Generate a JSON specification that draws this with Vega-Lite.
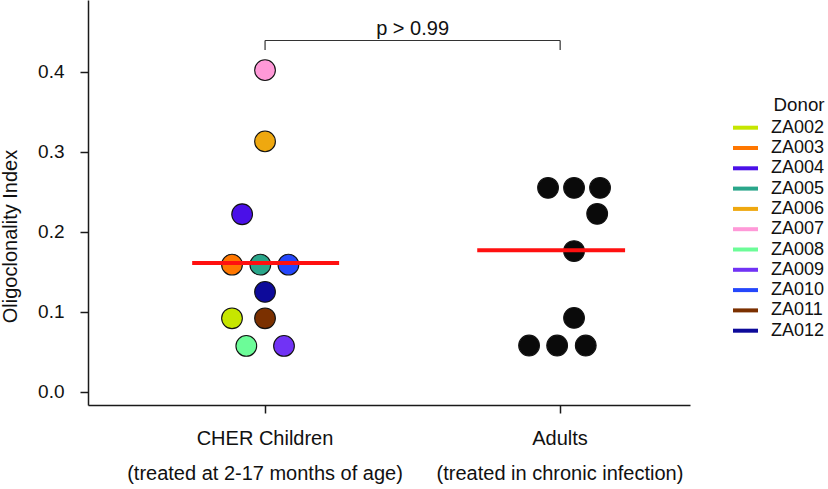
{
  "$schema": "https://vega.github.io/schema/vega-lite/v6.json",
  "width": 602,
  "height": 405,
  "autosize": {"type": "none"},
  "padding": {"left": 88, "top": 0, "right": 138, "bottom": 84},
  "config": {
    "font": "Liberation Sans",
    "view": {"stroke": null},
    "axis": {"grid": false, "domainColor": "#1a1a1a", "tickColor": "#1a1a1a", "domainWidth": 1.5, "tickWidth": 1.5, "tickSize": 8, "labelColor": "#111", "titleColor": "#111"}
  },
  "datasets": {
    "donors": [
      {"donor": "ZA007", "group": "CHER Children", "index": 0.402, "slot": 0},
      {"donor": "ZA006", "group": "CHER Children", "index": 0.313, "slot": 0},
      {"donor": "ZA004", "group": "CHER Children", "index": 0.222, "slot": -0.88},
      {"donor": "ZA003", "group": "CHER Children", "index": 0.159, "slot": -1.27},
      {"donor": "ZA005", "group": "CHER Children", "index": 0.159, "slot": -0.18},
      {"donor": "ZA010", "group": "CHER Children", "index": 0.159, "slot": 0.9},
      {"donor": "ZA012", "group": "CHER Children", "index": 0.125, "slot": 0},
      {"donor": "ZA002", "group": "CHER Children", "index": 0.092, "slot": -1.27},
      {"donor": "ZA011", "group": "CHER Children", "index": 0.092, "slot": 0},
      {"donor": "ZA008", "group": "CHER Children", "index": 0.0575, "slot": -0.72},
      {"donor": "ZA009", "group": "CHER Children", "index": 0.0575, "slot": 0.73},
      {"donor": "Adult", "group": "Adults", "index": 0.255, "slot": -0.46},
      {"donor": "Adult", "group": "Adults", "index": 0.255, "slot": 0.54},
      {"donor": "Adult", "group": "Adults", "index": 0.255, "slot": 1.54},
      {"donor": "Adult", "group": "Adults", "index": 0.2225, "slot": 1.43},
      {"donor": "Adult", "group": "Adults", "index": 0.176, "slot": 0.54},
      {"donor": "Adult", "group": "Adults", "index": 0.0925, "slot": 0.54},
      {"donor": "Adult", "group": "Adults", "index": 0.058, "slot": -1.19},
      {"donor": "Adult", "group": "Adults", "index": 0.058, "slot": -0.11},
      {"donor": "Adult", "group": "Adults", "index": 0.058, "slot": 0.99}
    ],
    "medians": [
      {"group": "CHER Children", "start": 0.753, "end": 1.251, "median": 0.161},
      {"group": "Adults", "start": 1.719, "end": 2.22, "median": 0.177}
    ],
    "bracket": [
      {"start": 1, "end": 2, "top": 0.439, "bottom": 0.427, "mid": 1.5, "label": "p > 0.99", "labelY": 0.446}
    ]
  },
  "resolve": {"scale": {"x": "independent"}, "axis": {"x": "independent"}},
  "layer": [
    {
      "data": {"name": "donors"},
      "transform": [{"filter": "datum.donor != 'Adult'"}],
      "mark": {"type": "line", "strokeWidth": 4},
      "encoding": {
        "x": {"field": "group", "type": "nominal", "scale": {"domain": ["CHER Children", "Adults"], "paddingInner": 0.1186, "paddingOuter": 0.0797, "align": 1}, "axis": null},
        "y": {"field": "index", "type": "quantitative"},
        "stroke": {"field": "donor", "type": "nominal", "title": "Donor",
          "scale": {"domain": ["ZA002", "ZA003", "ZA004", "ZA005", "ZA006", "ZA007", "ZA008", "ZA009", "ZA010", "ZA011", "ZA012"],
            "range": ["#c6e600", "#ff7700", "#4a10e8", "#2aa68a", "#efa80f", "#ff99d8", "#6cfc98", "#7133f5", "#2547fb", "#7b3000", "#0d0a9a"]},
          "legend": {"orient": "none", "legendX": 647.5, "legendY": 96, "padding": 0, "symbolType": "M-1.5625,0H1.5625", "symbolSize": 256, "symbolStrokeWidth": 4,
            "labelFontSize": 18, "labelOffset": 15.5, "labelColor": "#111", "labelLimit": 200, "titleFontSize": 18.7, "titleFontWeight": "normal", "titleColor": "#111",
            "titleAnchor": "end", "titlePadding": 3, "rowPadding": 1.3}}
      }
    },
    {
      "data": {"name": "donors"},
      "mark": {"type": "point", "shape": "circle", "filled": true, "size": 430, "stroke": "#111", "strokeWidth": 1.1, "opacity": 1},
      "encoding": {
        "x": {"field": "group", "type": "nominal",
          "scale": {"domain": ["CHER Children", "Adults"], "paddingInner": 0.1186, "paddingOuter": 0.0797, "align": 1},
          "axis": {"title": null, "labelAngle": 0, "labelFontSize": 20, "labelPadding": 15.5, "labelLineHeight": 35, "labelBaseline": "top", "labelLimit": 500,
            "labelExpr": "datum.value == 'CHER Children' ? ['CHER Children', '(treated at 2-17 months of age)'] : ['Adults', '(treated in chronic infection)']"}},
        "xOffset": {"field": "slot", "type": "quantitative", "scale": {"domain": [-1, 1], "range": [104, 156]}},
        "y": {"field": "index", "type": "quantitative",
          "scale": {"domain": [-0.0163, 0.4896], "nice": false, "zero": false},
          "axis": {"values": [0, 0.1, 0.2, 0.3, 0.4], "format": ".1f", "title": "Oligoclonality Index", "labelFontSize": 19, "labelPadding": 16,
            "titleFontSize": 20, "titleFontWeight": "normal", "titleAngle": -90, "titleBaseline": "alphabetic", "titleX": -72, "titleY": 236, "titleAlign": "center"}},
        "fill": {"field": "donor", "type": "nominal", "legend": null,
          "scale": {"domain": ["ZA002", "ZA003", "ZA004", "ZA005", "ZA006", "ZA007", "ZA008", "ZA009", "ZA010", "ZA011", "ZA012", "Adult"],
            "range": ["#c6e600", "#ff7700", "#4a10e8", "#2aa68a", "#efa80f", "#ff99d8", "#6cfc98", "#7133f5", "#2547fb", "#7b3000", "#0d0a9a", "#0a0a0a"]}}
      }
    },
    {
      "data": {"name": "medians"},
      "mark": {"type": "rule", "color": "#ff1010", "strokeWidth": 4},
      "encoding": {
        "x": {"field": "start", "type": "quantitative", "scale": {"domain": [0.4, 2.44], "nice": false, "zero": false}, "axis": null},
        "x2": {"field": "end"},
        "y": {"field": "median", "type": "quantitative"}
      }
    },
    {
      "data": {"name": "bracket"},
      "encoding": {},
      "layer": [
        {"mark": {"type": "rule", "color": "#333", "strokeWidth": 1.2},
         "encoding": {"x": {"field": "start", "type": "quantitative", "scale": {"domain": [0.4, 2.44], "nice": false, "zero": false}, "axis": null}, "x2": {"field": "end"}, "y": {"field": "top", "type": "quantitative"}}},
        {"mark": {"type": "rule", "color": "#333", "strokeWidth": 1.2},
         "encoding": {"x": {"field": "start", "type": "quantitative"}, "y": {"field": "bottom", "type": "quantitative"}, "y2": {"field": "top"}}},
        {"mark": {"type": "rule", "color": "#333", "strokeWidth": 1.2},
         "encoding": {"x": {"field": "end", "type": "quantitative"}, "y": {"field": "bottom", "type": "quantitative"}, "y2": {"field": "top"}}},
        {"mark": {"type": "text", "fontSize": 20, "baseline": "alphabetic", "align": "center", "color": "#111"},
         "encoding": {"x": {"field": "mid", "type": "quantitative"}, "y": {"field": "labelY", "type": "quantitative"}, "text": {"field": "label"}}}
      ]
    }
  ]
}
